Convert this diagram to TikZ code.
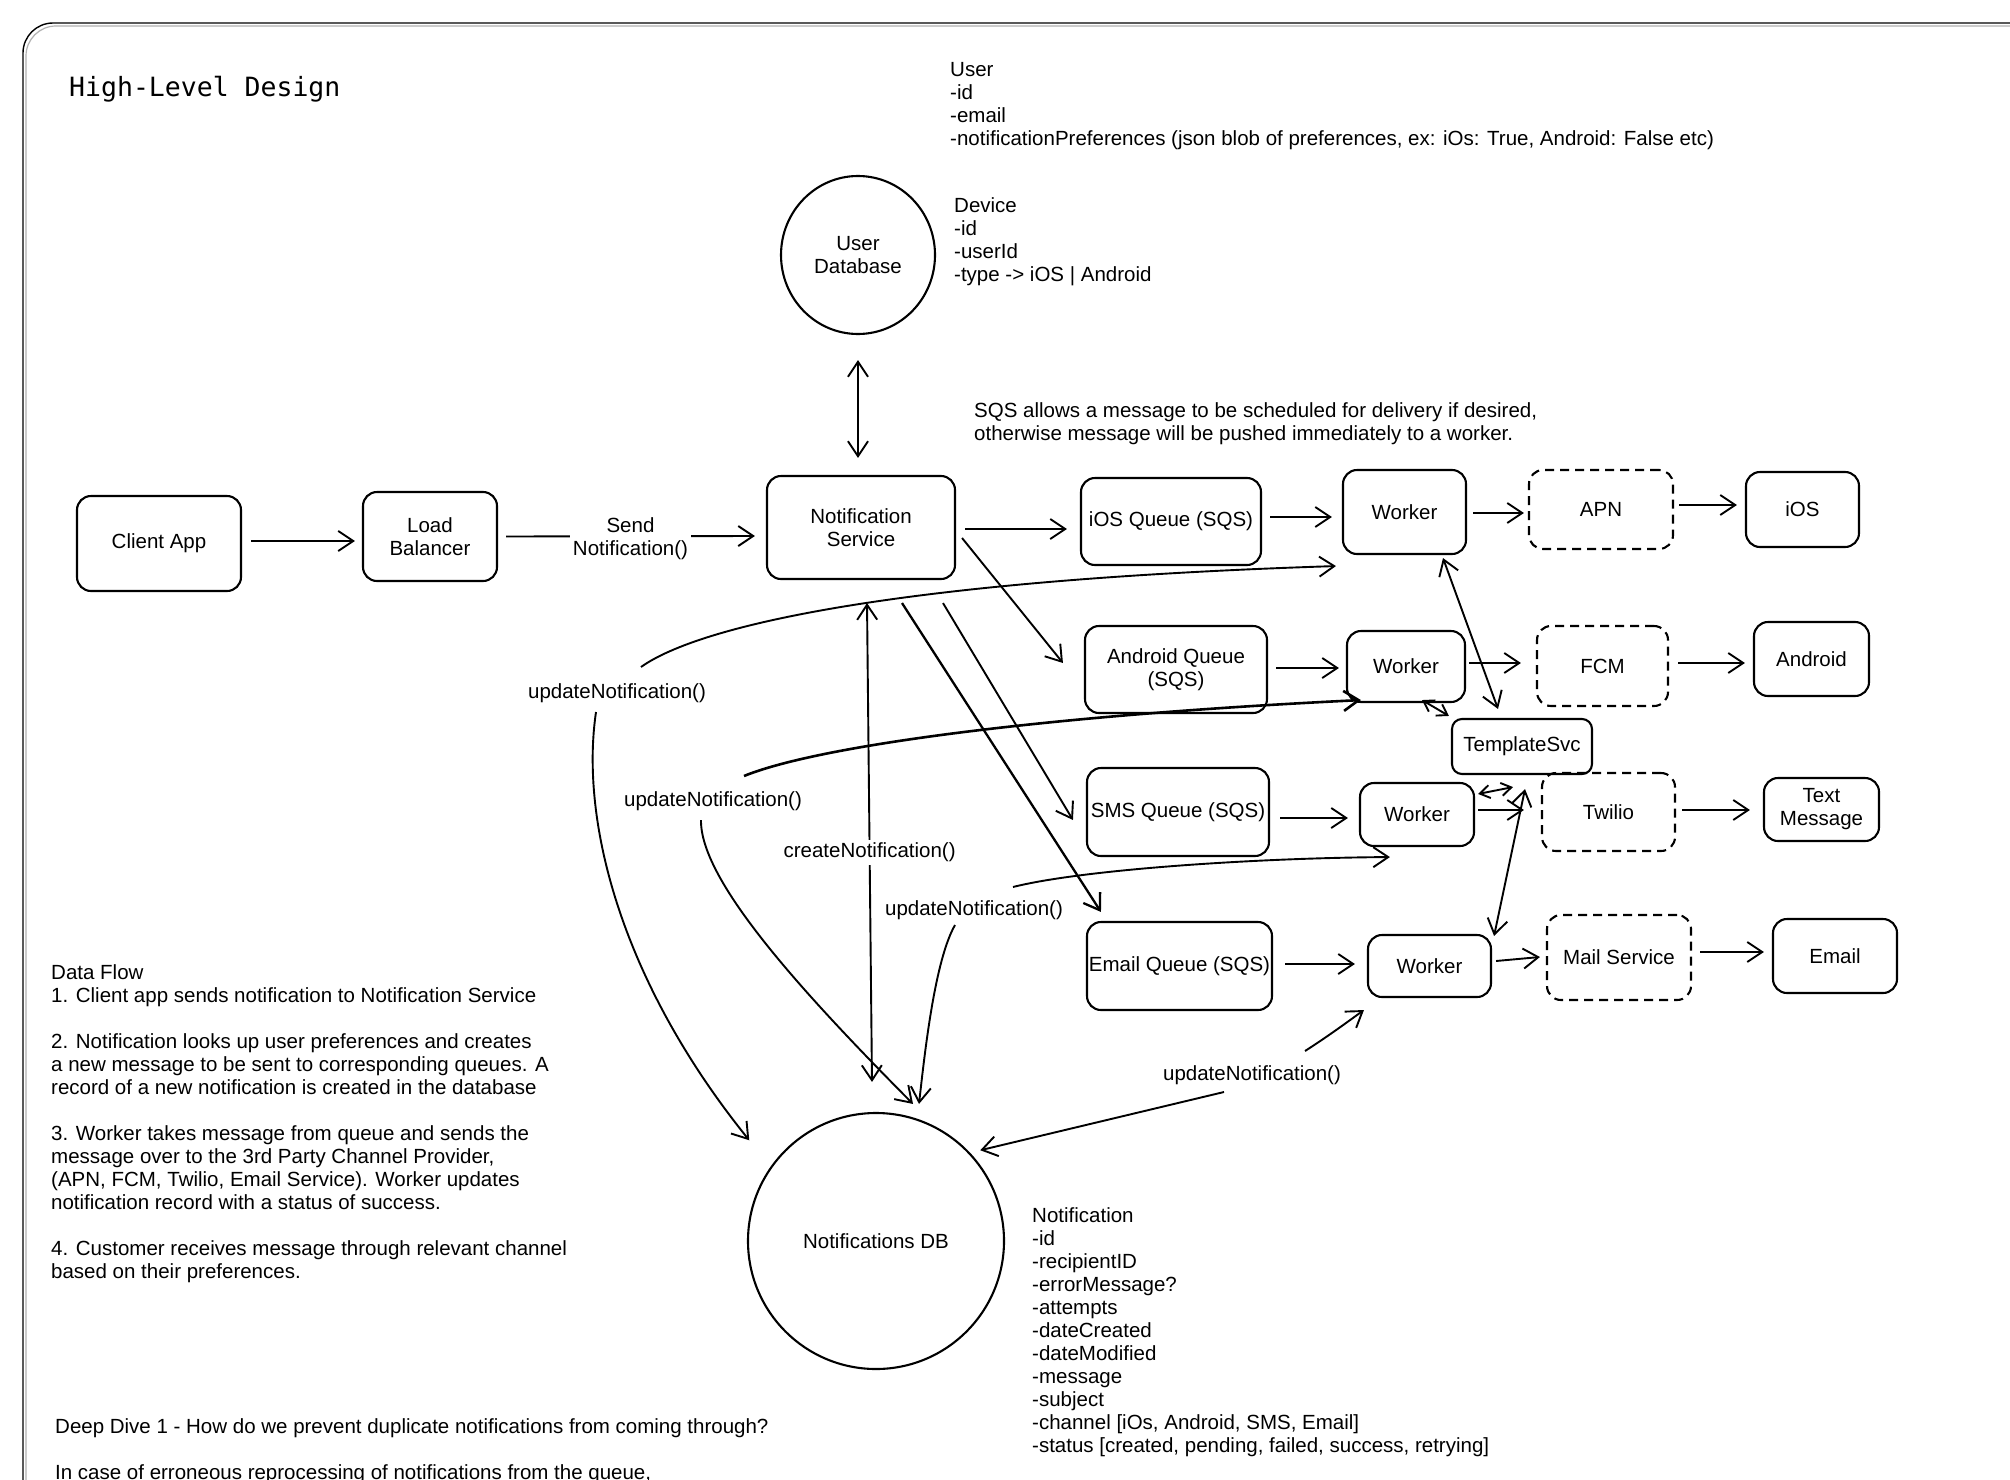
\documentclass[tikz,border=0pt]{standalone}
\usepackage{fontspec}
\newfontfamily\hand{Liberation Sans}
\newfontfamily\monof{DejaVu Sans Mono}
\usetikzlibrary{arrows.meta,shapes.geometric,calc}
\newcommand{\dfont}{\hand\fontsize{20.5}{23}\selectfont}
\tikzset{
  box/.style={draw, rounded corners=14pt, line width=2.1pt, inner sep=0pt, align=center, font=\dfont},
  dbox/.style={box, dash pattern=on 9pt off 6pt},
  circ/.style={draw, ellipse, line width=2.1pt, inner sep=0pt, align=center, font=\dfont},
  arr/.style={-{Straight Barb[length=15pt,width=20pt]}, line width=1.9pt},
  darr/.style={{Straight Barb[length=15pt,width=20pt]}-{Straight Barb[length=15pt,width=20pt]}, line width=1.9pt},
  sdarr/.style={{Straight Barb[length=10pt,width=13pt]}-{Straight Barb[length=10pt,width=13pt]}, line width=1.9pt},
  lbl/.style={fill=white, inner sep=3pt, font=\dfont, align=center},
  txt/.style={align=left, anchor=north west, inner sep=0pt, font=\dfont},
}
\begin{document}
\begin{tikzpicture}[x=1pt,y=-1pt]
\useasboundingbox (0,0) rectangle (2010,1480);
\clip (0,0) rectangle (2010,1480);
\fill[white] (0,0) rectangle (2010,1480);
% frame
\draw[gray!60, line width=1.2pt, rounded corners=30pt] (26,1500) -- (26,26) -- (2040,26);
\draw[line width=1.4pt, rounded corners=30pt] (23,1500) -- (23,23) -- (2040,23);

% title
\node[anchor=west, inner sep=0pt, font=\monof\fontsize{26.5}{30}\selectfont] (title) at (69,89.5) {High-Level Design};

% text blocks
\node[txt] (usertxt) at (950,62) {User\\-id\\-email\\-notificationPreferences (json blob of preferences, ex: iOs: True, Android: False etc)};
\node[txt] (devtxt) at (954,197) {Device\\-id\\-userId\\-type -> iOS | Android};
\node[txt] (sqstxt) at (974,402) {SQS allows a message to be scheduled for delivery if desired,\\otherwise message will be pushed immediately to a worker.};
\node[txt] (notiftxt) at (1032,1207) {Notification\\-id\\-recipientID\\-errorMessage?\\-attempts\\-dateCreated\\-dateModified\\-message\\-subject\\-channel [iOs, Android, SMS, Email]\\-status [created, pending, failed, success, retrying]};
\node[txt] (flowtxt) at (51,964) {Data Flow\\1. Client app sends notification to Notification Service\\[23pt]2. Notification looks up user preferences and creates\\a new message to be sent to corresponding queues. A\\record of a new notification is created in the database\\[23pt]3. Worker takes message from queue and sends the\\message over to the 3rd Party Channel Provider,\\(APN, FCM, Twilio, Email Service). Worker updates\\notification record with a status of success.\\[23pt]4. Customer receives message through relevant channel\\based on their preferences.};
\node[txt] (deeptxt) at (55,1418) {Deep Dive 1 - How do we prevent duplicate notifications from coming through?\\[23pt]In case of erroneous reprocessing of notifications from the queue,};

% nodes
\node[circ, minimum width=154pt, minimum height=158pt] (userdb) at (858,255) {User\\Database};
\node[circ, minimum width=256pt, minimum height=256pt] (ndb) at (876,1241) {Notifications DB};

\node[box, minimum width=164pt, minimum height=95pt] (client) at (159,543.5) {Client App};
\node[box, minimum width=134pt, minimum height=89pt] (lb) at (430,536.5) {Load\\Balancer};
\node[box, minimum width=188pt, minimum height=103pt] (ns) at (861,527.5) {Notification\\Service};

\node[box, minimum width=180pt, minimum height=87pt] (iosq) at (1171,521.5) {iOS Queue (SQS)};
\node[box, minimum width=123pt, minimum height=84pt] (w1) at (1404.5,512) {Worker};
\node[dbox, minimum width=144pt, minimum height=79pt] (apn) at (1601,509.5) {APN};
\node[box, minimum width=113pt, minimum height=75pt] (ios) at (1802.5,509.5) {iOS};

\node[box, minimum width=182pt, minimum height=87pt] (andq) at (1176,669.5) {Android Queue\\(SQS)};
\node[box, minimum width=118pt, minimum height=71pt] (w2) at (1406,666.5) {Worker};
\node[dbox, minimum width=131pt, minimum height=80pt] (fcm) at (1602.5,666) {FCM};
\node[box, minimum width=115pt, minimum height=74pt] (android) at (1811.5,659) {Android};

\node[box, minimum width=140pt, minimum height=55pt, rounded corners=10pt] (tmpl) at (1522,746.5) {TemplateSvc};

\node[box, minimum width=182pt, minimum height=88pt] (smsq) at (1178,812) {SMS Queue (SQS)};
\node[box, minimum width=114pt, minimum height=63pt] (w3) at (1417,814.5) {Worker};
\node[dbox, minimum width=133pt, minimum height=78pt] (twilio) at (1608.5,812) {Twilio};
\node[box, minimum width=115pt, minimum height=63pt] (textm) at (1821.5,809.5) {Text\\Message};

\node[box, minimum width=185pt, minimum height=88pt] (emq) at (1179.5,966) {Email Queue (SQS)};
\node[box, minimum width=123pt, minimum height=62pt] (w4) at (1429.5,966) {Worker};
\node[dbox, minimum width=144pt, minimum height=85pt] (mail) at (1619,957.5) {Mail Service};
\node[box, minimum width=124pt, minimum height=74pt] (email) at (1835,956) {Email};

% labels of curved connectors
\node[lbl] (u1) at (617,693) {updateNotification()};
\node[lbl] (u2) at (713,801) {updateNotification()};
\node[lbl] (u3) at (974,910) {updateNotification()};
\node[lbl] (u4) at (1252,1075) {updateNotification()};

% straight connectors
\draw[arr] ($(client.east)+(9,-2.5)$) -- ($(lb.west)+(-7,4.5)$);
\draw[arr] ($(lb.east)+(8,0)$) -- node[lbl, yshift=-2pt] (sendlbl) {Send\\Notification()} ($(ns.west)+(-11,8.5)$);
\draw[arr] ($(ns.east)+(9,1.5)$) -- ($(iosq.west)+(-13,7.5)$);
\draw[arr] ($(iosq.east)+(8,-4.5)$) -- ($(w1.west)+(-10,5)$);
\draw[arr] ($(w1.east)+(6,1)$) -- ($(apn.west)+(-4,3.5)$);
\draw[arr] ($(apn.east)+(5,-4.5)$) -- ($(ios.west)+(-8,-4.5)$);
\draw[arr] ($(ns.east)+(6,10.5)$) -- ($(andq.west)+(-21,-6.5)$);
\draw[arr] ($(andq.east)+(8,-1.5)$) -- ($(w2.west)+(-7,1.5)$);
\draw[arr] ($(w2.east)+(3,-3.5)$) -- ($(fcm.west)+(-15,-3)$);
\draw[arr] ($(fcm.east)+(9,-3)$) -- ($(android.west)+(-8,4)$);
\draw[arr] ($(ns.south)+(82,23)$) -- ($(smsq.west)+(-13,8)$);
\draw[arr] ($(smsq.east)+(10,6)$) -- ($(w3.west)+(-11,3.5)$);
\draw[arr] ($(w3.east)+(3,-4.5)$) -- ($(twilio.west)+(-17,-2)$);
\draw[arr] ($(twilio.east)+(6,-2)$) -- ($(textm.west)+(-13,0.5)$);
\draw[arr, line width=2.3pt] ($(ns.south)+(41,23)$) -- ($(emq.north west)+(15,-9)$);
\draw[arr] ($(emq.east)+(12,-2)$) -- ($(w4.west)+(-12,-2)$);
\draw[arr] ($(w4.east)+(4,-5)$) -- ($(mail.west)+(-6,-0.5)$);
\draw[arr] ($(mail.east)+(8,-5.5)$) -- ($(email.west)+(-8,-4)$);

% double-headed connectors
\draw[darr] ($(userdb.south)+(0,25)$) -- ($(ns.north)+(-3,-17)$);
\draw[darr] ($(ns.south)+(6,23)$) -- node[lbl, pos=0.52] (createlbl) {createNotification()} ($(ndb.north)+(-4,-30)$);
\draw[darr] ($(w1.south)+(38.5,3)$) -- ($(tmpl.north)+(-24,-9)$);
\draw[sdarr] ($(w2.south)+(16,-3)$) -- ($(tmpl.north west)+(-2,-2)$);
\draw[sdarr] ($(w3.north east)+(3,12)$) -- ($(tmpl.south)+(-9,12)$);
\draw[darr] ($(w4.north east)+(2,2)$) -- ($(tmpl.south)+(3,14)$);

% curved update connectors
\draw[arr] ($(u1.center)+(24,-26)$) .. controls (700,625) and (900,580) .. ($(w1.south west)+(-6,11)$);
\draw[arr] ($(u1.center)+(-21,19)$) .. controls (580,820) and (620,980) .. ($(ndb.north west)+(-35.5,-9.5)$);
\draw[arr, line width=2.6pt] ($(u2.center)+(31,-25)$) .. controls (820,745) and (1050,715) .. ($(w2.south west)+(15,-3)$);
\draw[arr] ($(u2.center)+(-12,19)$) .. controls (700,880) and (800,990) .. ($(ndb.north)+(37,-8)$);
\draw[arr] ($(u3.center)+(39,-23)$) .. controls (1080,870) and (1250,858) .. ($(w3.south west)+(31,10)$);
\draw[arr] ($(u3.center)+(-19,15)$) .. controls (935,960) and (925,1050) .. ($(ndb.north)+(43,-8)$);
\draw[arr] ($(u4.center)+(53,-24)$) .. controls (1330,1035) and (1350,1020) .. ($(w4.south west)+(-3,12)$);
\draw[arr] ($(u4.center)+(-28,17)$) -- ($(ndb.north west)+(195.5,0.5)$);
\end{tikzpicture}
\end{document}
